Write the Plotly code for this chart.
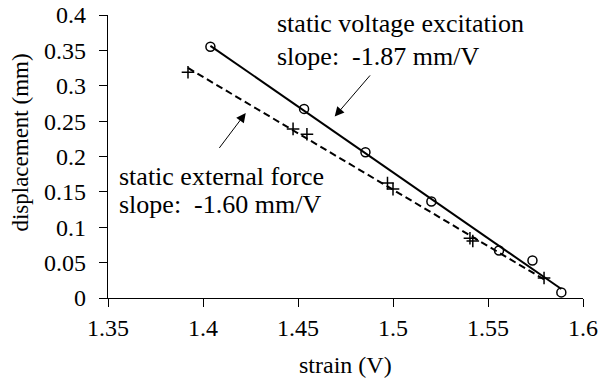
import numpy as np
import plotly.graph_objects as go

# static voltage excitation (circles)
volt_strain = [1.4039, 1.4532, 1.4855, 1.5202, 1.5558, 1.5734, 1.5886]
volt_disp = [0.3552, 0.2673, 0.2061, 0.1364, 0.0672, 0.0531, 0.0079]

# static external force (crosses)
force_strain = [1.3921, 1.4474, 1.4547, 1.4971, 1.5000, 1.5405, 1.5420, 1.5795]
force_disp = [0.3191, 0.2390, 0.2315, 0.1624, 0.1539, 0.0845, 0.0805, 0.0282]

x_ticks = [1.35, 1.4, 1.45, 1.5, 1.55, 1.6]
x_tick_labels = ["1.35", "1.4", "1.45", "1.5", "1.55", "1.6"]
y_ticks = [0, 0.05, 0.1, 0.15, 0.2, 0.25, 0.3, 0.35, 0.4]
y_tick_labels = ["0", "0.05", "0.1", "0.15", "0.2", "0.25", "0.3", "0.35", "0.4"]

FONT = "Liberation Serif, Times New Roman, serif"
TXT = 26

def trend(xs, ys):
    a, b = np.polyfit(xs, ys, 1)
    xx = np.array([min(xs), max(xs)])
    return xx, a * xx + b

fig = go.Figure()

vx, vy = trend(volt_strain, volt_disp)
fx, fy = trend(force_strain, force_disp)

fig.add_trace(go.Scatter(x=vx, y=vy, mode="lines",
                         line=dict(color="black", width=2), showlegend=False))
fig.add_trace(go.Scatter(x=fx, y=fy, mode="lines",
                         line=dict(color="black", width=2, dash="7px,4px"), showlegend=False))
fig.add_trace(go.Scatter(x=volt_strain, y=volt_disp, mode="markers",
                         marker=dict(symbol="circle-open", size=9, color="black",
                                     line=dict(width=1.5, color="black")),
                         showlegend=False))
fig.add_trace(go.Scatter(x=force_strain, y=force_disp, mode="markers",
                         marker=dict(symbol="cross-thin", size=9, color="black",
                                     line=dict(width=1.5, color="black")),
                         showlegend=False))

fig.add_annotation(x=1.4377, y=0.3873, xref="x", yref="y", xanchor="left", yanchor="middle",
                   text="static voltage excitation", showarrow=False,
                   font=dict(size=TXT, color="black", family=FONT))
fig.add_annotation(x=1.4377, y=0.342, xref="x", yref="y", xanchor="left", yanchor="middle",
                   text="slope:  -1.87 mm/V", showarrow=False,
                   font=dict(size=TXT, color="black", family=FONT))
fig.add_annotation(x=1.3547, y=0.1717, xref="x", yref="y", xanchor="left", yanchor="middle",
                   text="static external force", showarrow=False,
                   font=dict(size=TXT, color="black", family=FONT))
fig.add_annotation(x=1.3547, y=0.1317, xref="x", yref="y", xanchor="left", yanchor="middle",
                   text="slope:  -1.60 mm/V", showarrow=False,
                   font=dict(size=TXT, color="black", family=FONT))

# arrows
fig.add_annotation(x=1.4693, y=0.2564, ax=1.4886, ay=0.3167, xref="x", yref="y",
                   axref="x", ayref="y", text="", showarrow=True, arrowhead=2,
                   arrowsize=1.9, arrowwidth=1, arrowcolor="black")
fig.add_annotation(x=1.4225, y=0.2616, ax=1.4080, ay=0.2100, xref="x", yref="y",
                   axref="x", ayref="y", text="", showarrow=True, arrowhead=2,
                   arrowsize=1.9, arrowwidth=1, arrowcolor="black")

# axis titles
fig.add_annotation(x=0.5, y=0, xref="paper", yref="paper", text="strain (V)",
                   showarrow=False, xanchor="center", yanchor="middle", yshift=-67,
                   xshift=346 - (108.3 + 583.3) / 2,
                   font=dict(size=24, color="black", family=FONT))
fig.add_annotation(x=0, y=0.5, xref="paper", yref="paper", text="displacement (mm)",
                   showarrow=False, textangle=-90, xanchor="center", yanchor="middle",
                   xshift=21 - 108.3, yshift=(156.6 - 143),
                   font=dict(size=23, color="black", family=FONT))

fig.update_layout(
    width=602, height=385,
    margin=dict(l=108, r=19, t=15, b=87, autoexpand=False),
    paper_bgcolor="white", plot_bgcolor="white",
    font=dict(family=FONT, size=24, color="black"),
    xaxis=dict(range=[1.35, 1.6], tickvals=x_ticks, ticktext=x_tick_labels,
               showgrid=False, zeroline=False, showline=True, linecolor="black",
               linewidth=1.3, ticks="outside", ticklen=8, tickcolor="black",
               tickwidth=1.3, automargin=False, ticklabelstandoff=0),
    yaxis=dict(range=[0, 0.4], tickvals=y_ticks, ticktext=y_tick_labels,
               showgrid=False, zeroline=False, showline=True, linecolor="black",
               linewidth=1.3, ticks="outside", ticklen=8, tickcolor="black",
               tickwidth=1.3, automargin=False, ticklabelstandoff=8),
)

fig.write_html("out.html", config={"displayModeBar": False},
               post_script="document.body.style.margin='0';document.body.style.overflow='hidden';")
